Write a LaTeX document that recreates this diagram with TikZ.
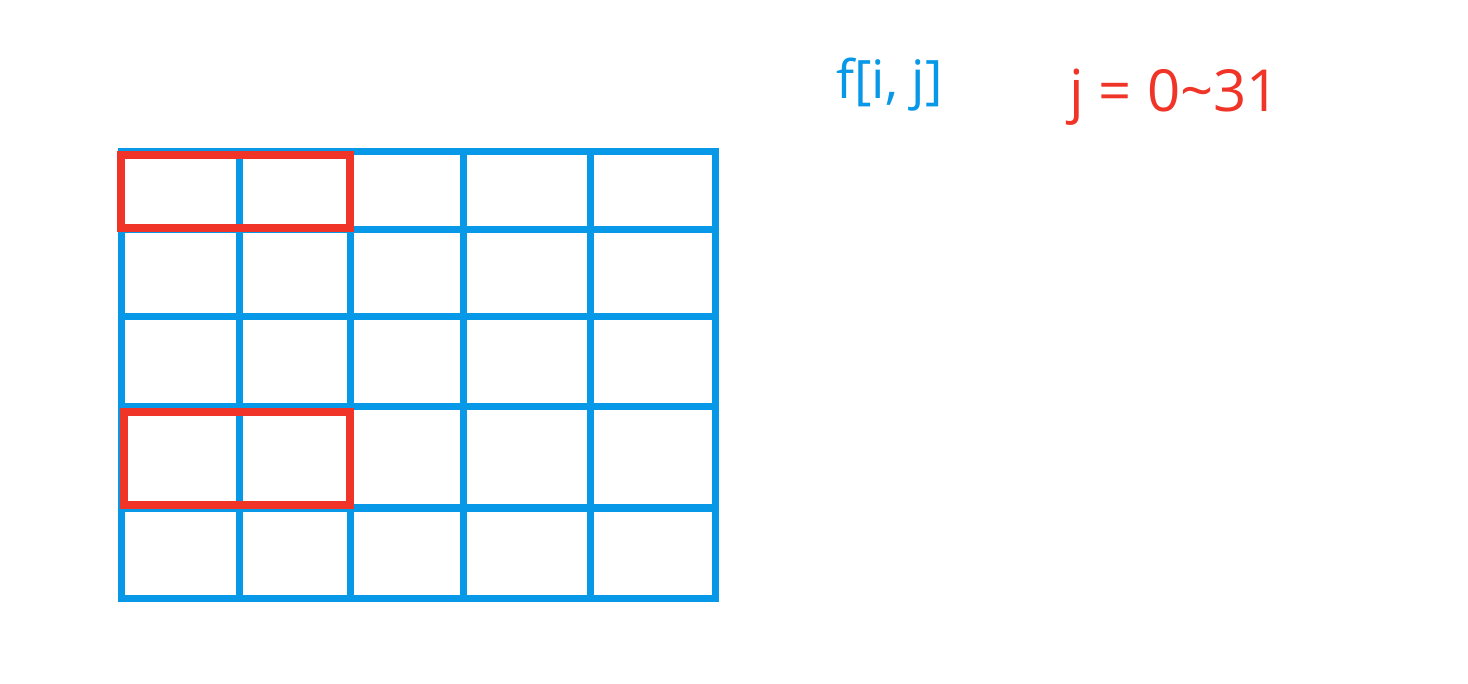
\documentclass[tikz,border=0pt]{standalone}
\usepackage{fontspec}
\setmainfont{Open Sans}
\definecolor{gridblue}{RGB}{8,152,232}
\definecolor{markred}{RGB}{240,52,40}
\tikzset{
  gridline/.style={draw=gridblue, line width=7pt},
  redbox/.style={draw=markred, line width=7.5pt},
  lbl/.style={inner sep=0pt, anchor=base west}
}
\begin{document}
\begin{tikzpicture}[x=1pt,y=-1pt]
\useasboundingbox[fill=white] (0,0) rectangle (1468,684);
% grid
\foreach \x in {239,350,463,590} \draw[gridline] (\x,152) -- (\x,598);
\foreach \y in {230,317,407,508} \draw[gridline] (121,\y) -- (715,\y);
\draw[gridline] (121,152) rectangle (715,598);
% red boxes
\draw[redbox] (121,155) rectangle (350,228);
\draw[redbox] (124,412) rectangle (350,505);
% labels
\node[lbl, text=gridblue, font=\fontsize{53}{63}\selectfont] (f) at (836,99) {f[i, j]};
\node[lbl, text=markred, font=\fontsize{58}{69}\selectfont] (j) at (1069,112) {j = 0\char"007E 31};
\end{tikzpicture}
\end{document}
